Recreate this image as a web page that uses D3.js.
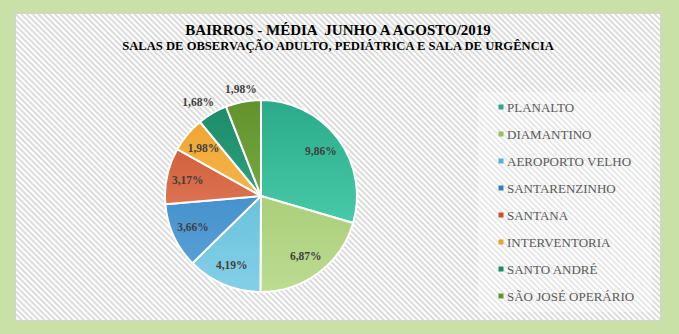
<!DOCTYPE html>
<html><head><meta charset="utf-8">
<script src="https://cdn.jsdelivr.net/npm/d3@7"></script>
<style>html,body{margin:0;padding:0;background:#c9e0a7;}svg{display:block;}</style>
</head><body><svg id="c" width="679" height="334"></svg>
<script>
const categories = ["PLANALTO","DIAMANTINO","AEROPORTO VELHO","SANTARENZINHO","SANTANA","INTERVENTORIA","SANTO ANDRÉ","SÃO JOSÉ OPERÁRIO"];
const values = [9.86, 6.87, 4.19, 3.66, 3.17, 1.98, 1.68, 1.98];
const labels = ["9,86%","6,87%","4,19%","3,66%","3,17%","1,98%","1,68%","1,98%"];
const colorsDark = ["#2aaa8a","#98c160","#4fb2d6","#2f7fc0","#c9502c","#eea22a","#1c8a68","#62922c"];
const colorsLight = ["#58dcb8","#bcdc92","#84d0e6","#5ea4da","#ec9070","#f9c66a","#3ab898","#8cbc4e"];
const title = "BAIRROS - MÉDIA  JUNHO A AGOSTO/2019";
const subtitle = "SALAS DE OBSERVAÇÃO ADULTO, PEDIÁTRICA E SALA DE URGÊNCIA";

const svg = d3.select("#c");
const defs = svg.append("defs");
const pat = defs.append("pattern").attr("id","stripes").attr("patternUnits","userSpaceOnUse")
  .attr("width",4).attr("height",4).attr("patternTransform","rotate(-45)");
pat.append("rect").attr("width",4).attr("height",4).attr("fill","#ffffff");
pat.append("rect").attr("width",2).attr("height",4).attr("fill","#dcdcdc");

svg.append("rect").attr("x",0).attr("y",0).attr("width",679).attr("height",334).attr("fill","#c9e0a7");
svg.append("rect").attr("x",15.5).attr("y",13.5).attr("width",645).attr("height",307)
  .attr("fill","url(#stripes)").attr("stroke","#d4d4d4").attr("stroke-width",1);

const serif = "'Liberation Serif','Times New Roman',Times,serif";
// title
svg.append("text").attr("x",338).attr("y",35).attr("text-anchor","middle")
  .attr("font-family",serif).attr("font-weight","bold")
  .attr("font-size",15).attr("fill","#000").style("white-space","pre").text(title);
svg.append("text").attr("x",338).attr("y",50).attr("text-anchor","middle")
  .attr("font-family",serif).attr("font-weight","bold")
  .attr("font-size",12.6).attr("fill","#000").text(subtitle);

// pie
const cx = 261, cy = 196, r = 96;
const pie = d3.pie().sort(null).value(d => d)(values);
const arc = d3.arc().innerRadius(0).outerRadius(r);
categories.forEach((c,i)=>{
  const g = defs.append("linearGradient").attr("id","g"+i).attr("gradientUnits","userSpaceOnUse")
    .attr("x1",0).attr("y1",-r).attr("x2",0).attr("y2",r);
  g.append("stop").attr("offset","0%").attr("stop-color",colorsDark[i]);
  g.append("stop").attr("offset","100%").attr("stop-color",colorsLight[i]);
});
const pg = svg.append("g").attr("transform",`translate(${cx},${cy})`);
pg.selectAll("path").data(pie).join("path")
  .attr("d",arc)
  .attr("fill",(d,i)=>`url(#g${i})`)
  .attr("stroke","#ffffff").attr("stroke-width",2).attr("stroke-linejoin","round");

pg.selectAll("text.lbl").data(pie).join("text").attr("class","lbl")
  .attr("transform",d=>{
    const a = (d.startAngle+d.endAngle)/2;
    const outside = a > 5.5;
    const rr = outside ? r*1.13 : r*0.78;
    const dx = outside && a < 5.9 ? -8 : 0;
    return `translate(${rr*Math.sin(a)+dx},${-rr*Math.cos(a)})`;
  })
  .attr("text-anchor","middle").attr("dy","0.35em")
  .attr("font-family",serif).attr("font-weight","bold")
  .attr("font-size",11.5).attr("fill","#404040")
  .text((d,i)=>labels[i]);

// legend
svg.append("rect").attr("x",478).attr("y",92).attr("width",174).attr("height",220).attr("fill","#ffffff").attr("opacity",0.35);
const ly = d3.scalePoint().domain(categories).range([107,296]);
const lg = svg.append("g");
categories.forEach((c,i)=>{
  lg.append("rect").attr("x",498.5).attr("y",ly(c)-2.5).attr("width",5).attr("height",5).attr("fill",colorsDark[i]);
  lg.append("text").attr("x",507).attr("y",ly(c)).attr("dy","0.35em")
    .attr("font-family",serif).attr("font-size",13)
    .attr("fill","#595959").text(c);
});
</script></body></html>
